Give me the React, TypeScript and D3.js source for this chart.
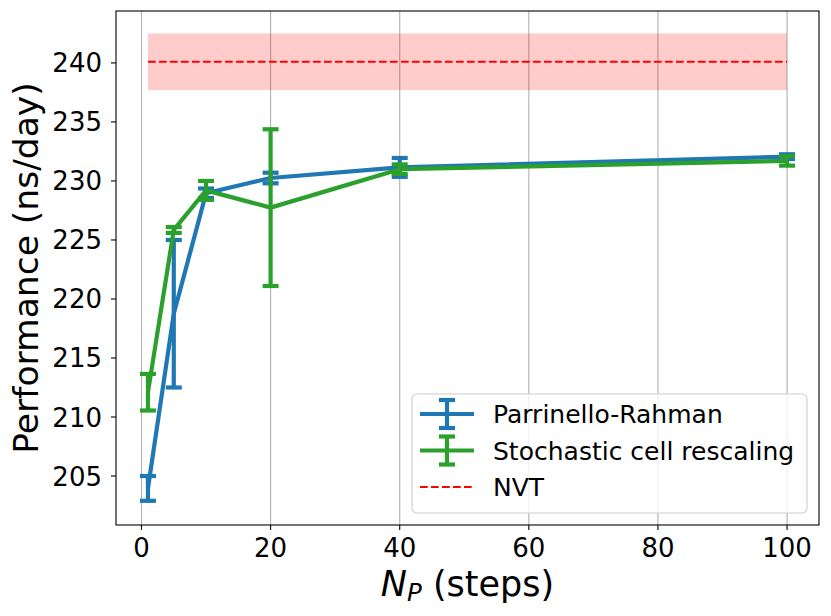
import React from "react";
import * as d3 from "d3";

const steps = [1, 5, 10, 20, 40, 100];
const prMean = [203.95, 218.75, 228.96, 230.25, 231.15, 232.06];
const prErr = [1.05, 6.25, 0.4, 0.45, 0.8, 0.2];
const scrMean = [212.1, 225.85, 229.2, 227.74, 231.0, 231.7];
const scrErr = [1.55, 0.25, 0.8, 6.64, 0.4, 0.4];
const nvtMean = 240.1;
const nvtLow = 237.7;
const nvtHigh = 242.5;
const nvtRange = [1, 100];
const xTicks = [0, 20, 40, 60, 80, 100];
const yTicks = [205, 210, 215, 220, 225, 230, 235, 240];
const seriesNames = ["Parrinello-Rahman", "Stochastic cell rescaling", "NVT"];

const W = 831;
const H = 616;
const L = 116, R = 819, T = 11, B = 525;
const FONT = "DejaVu Sans, sans-serif";
const BLUE = "#1f77b4";
const GREEN = "#2ca02c";

export default function App() {
  const x = d3.scaleLinear().domain([-3.95, 104.95]).range([L, R]);
  const y = d3.scaleLinear().domain([200.85, 244.4]).range([B, T]);
  const line = d3
    .line<[number, number]>()
    .x((d) => x(d[0]))
    .y((d) => y(d[1]));

  const series = [
    { mean: prMean, err: prErr, color: BLUE },
    { mean: scrMean, err: scrErr, color: GREEN },
  ];
  const lw = 4.2;
  const cap = 8;

  return (
    <svg
      width={W}
      height={H}
      style={{ position: "absolute", left: 0, top: 0, background: "white" }}
      fontFamily={FONT}
    >
      <rect x={0} y={0} width={W} height={H} fill="white" />
      {/* grid */}
      {xTicks.map((t) => (
        <line key={"g" + t} x1={x(t)} x2={x(t)} y1={T} y2={B} stroke="#b0b0b0" strokeWidth={1.1} />
      ))}
      {/* NVT band */}
      <rect
        x={x(nvtRange[0])}
        width={x(nvtRange[1]) - x(nvtRange[0])}
        y={y(nvtHigh)}
        height={y(nvtLow) - y(nvtHigh)}
        fill="red"
        fillOpacity={0.2}
      />
      <line
        x1={x(nvtRange[0])}
        x2={x(nvtRange[1])}
        y1={y(nvtMean)}
        y2={y(nvtMean)}
        stroke="red"
        strokeWidth={2.1}
        strokeDasharray="7.7,3.3"
      />
      {/* series */}
      {series.map((s, si) => (
        <g key={si}>
          <path
            d={line(steps.map((st, i) => [st, s.mean[i]] as [number, number])) || ""}
            fill="none"
            stroke={s.color}
            strokeWidth={lw}
            strokeLinejoin="round"
            strokeLinecap="butt"
          />
          {steps.map((st, i) => {
            const cx = x(st);
            const y1 = y(s.mean[i] + s.err[i]);
            const y2 = y(s.mean[i] - s.err[i]);
            return (
              <g key={i}>
                <line x1={cx} x2={cx} y1={y1} y2={y2} stroke={s.color} strokeWidth={lw} />
                <line x1={cx - cap} x2={cx + cap} y1={y1} y2={y1} stroke={s.color} strokeWidth={lw} />
                <line x1={cx - cap} x2={cx + cap} y1={y2} y2={y2} stroke={s.color} strokeWidth={lw} />
              </g>
            );
          })}
        </g>
      ))}
      {/* frame */}
      <rect x={L} y={T} width={R - L} height={B - T} fill="none" stroke="black" strokeWidth={1.1} />
      {/* x ticks */}
      {xTicks.map((t) => (
        <g key={"xt" + t}>
          <line x1={x(t)} x2={x(t)} y1={B} y2={B + 5} stroke="black" strokeWidth={1.1} />
          <text x={x(t)} y={557} fontSize={26} textAnchor="middle" fill="black">
            {t}
          </text>
        </g>
      ))}
      {/* y ticks */}
      {yTicks.map((t) => (
        <g key={"yt" + t}>
          <line x1={L - 5} x2={L} y1={y(t)} y2={y(t)} stroke="black" strokeWidth={1.1} />
          <text x={L - 14} y={y(t) + 9.5} fontSize={26} textAnchor="end" fill="black">
            {t}
          </text>
        </g>
      ))}
      {/* axis labels */}
      <text x={(L + R) / 2} y={596} fontSize={35} textAnchor="middle" fill="black">
        <tspan fontStyle="italic">N</tspan>
        <tspan fontStyle="italic" fontSize={24.5} dy={5}>P</tspan>
        <tspan dy={-5}> (steps)</tspan>
      </text>
      <text
        transform={`translate(38, ${(T + B) / 2}) rotate(-90)`}
        fontSize={34.5}
        textAnchor="middle"
        fill="black"
      >
        Performance (ns/day)
      </text>
      {/* legend */}
      <g>
        <rect x={412} y={394} width={395} height={119} rx={5} fill="white" fillOpacity={0.8} stroke="#cccccc" strokeWidth={1.1} />
        {[BLUE, GREEN].map((c, i) => {
          const cy = 414 + i * 36.5;
          return (
            <g key={"lg" + i}>
              <line x1={420} x2={474} y1={cy} y2={cy} stroke={c} strokeWidth={lw} />
              <line x1={447} x2={447} y1={cy - 14} y2={cy + 14} stroke={c} strokeWidth={lw} />
              <line x1={447 - cap} x2={447 + cap} y1={cy - 14} y2={cy - 14} stroke={c} strokeWidth={lw} />
              <line x1={447 - cap} x2={447 + cap} y1={cy + 14} y2={cy + 14} stroke={c} strokeWidth={lw} />
            </g>
          );
        })}
        <line x1={420} x2={474} y1={487} y2={487} stroke="red" strokeWidth={2.1} strokeDasharray="7.7,3.3" />
        {seriesNames.map((n, i) => (
          <text key={n} x={493} y={423 + i * 36.5} fontSize={25} fill="black">
            {n}
          </text>
        ))}
      </g>
    </svg>
  );
}
